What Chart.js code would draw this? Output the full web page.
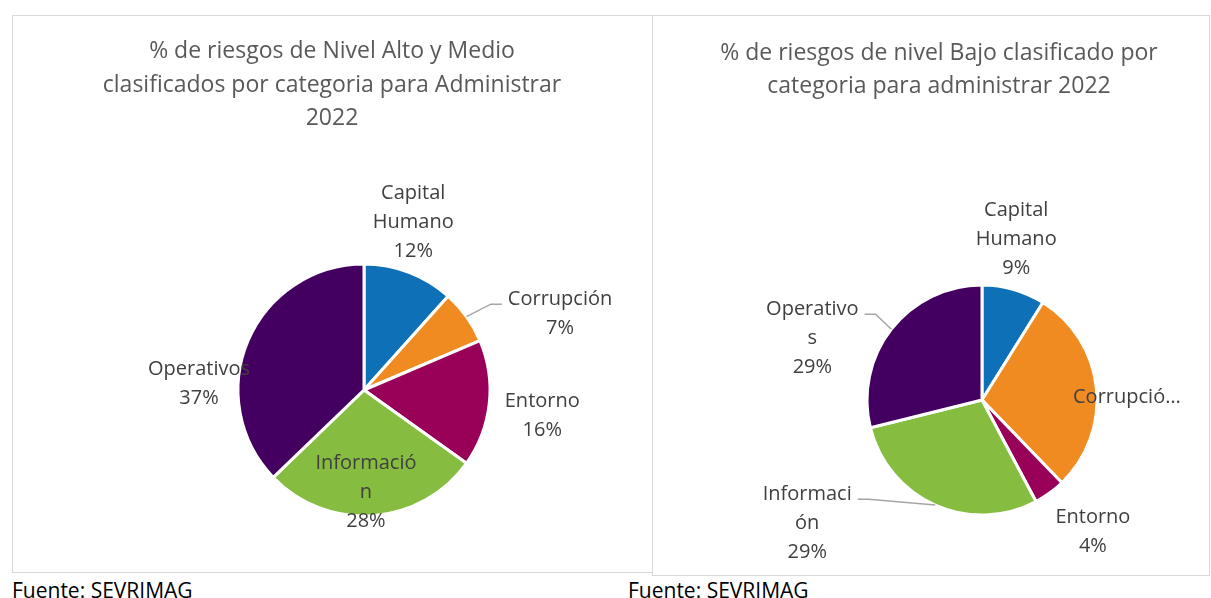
<!DOCTYPE html>
<html>
<head>
<meta charset="utf-8">
<script src="https://cdn.jsdelivr.net/npm/chart.js@4.4.0/dist/chart.umd.min.js"></script>
<style>
body{margin:0;background:#fff;width:1211px;height:598px;position:relative;overflow:hidden;font-family:"Open Sans",sans-serif;}
.box{position:absolute;border:1px solid #d9d9d9;box-sizing:border-box;}
.box canvas{position:absolute;left:0;top:0;}
.title{position:absolute;text-align:center;color:#595959;font-size:23px;line-height:33.5px;white-space:nowrap;}
.src{position:absolute;font-size:21px;color:#000;top:577px;line-height:26px;}
</style>
</head>
<body>
<div class="box" style="left:12px;top:15px;width:641px;height:558px"><canvas id="pieA" width="639" height="556"></canvas></div>
<div class="box" style="left:652px;top:15px;width:558px;height:561px"><canvas id="pieB" width="556" height="559"></canvas></div>
<div class="title" style="left:12px;width:640px;top:33px">% de riesgos de Nivel Alto y Medio<br>clasificados por categoria para Administrar<br>2022</div>
<div class="title" style="left:639px;width:600px;top:35px;line-height:32.5px">% de riesgos de nivel Bajo clasificado por<br>categoria para administrar 2022</div>
<div class="src" style="left:12px">Fuente: SEVRIMAG</div>
<div class="src" style="left:628px">Fuente: SEVRIMAG</div>
<script>
// categories and counts
var categories = ['Capital Humano', 'Corrupción', 'Entorno', 'Información', 'Operativos'];
var altoMedio = [5, 3, 7, 12, 16];
var bajo = [4, 13, 2, 13, 13];

// label text as wrapped in the picture
var labelsA = [['Capital', 'Humano'], ['Corrupción'], ['Entorno'], ['Informació', 'n'], ['Operativos']];
var labelsB = [['Capital', 'Humano'], ['Corrupció…'], ['Entorno'], ['Informaci', 'ón'], ['Operativo', 's']];
var pctA = [true, true, true, true, true];
var pctB = [true, false, true, true, true];

var colors = ['#0E71B8', '#F08B22', '#990057', '#86BD41', '#440060'];

// label placement: [angle shift from slice middle (deg), distance in radii]
var posA = [[-4.6, 1.39], [14.3, 1.67], [2.1, 1.43], [3.1, 0.81], [-20.9, 1.31]];
var posB = [[-4, 1.43], [4.8, 1.26], [-4, 1.50], [30.8, 1.86], [-18, 1.57]];
var leaderA = [false, true, false, false, false];
var leaderB = [false, false, false, true, true];

var sliceLabels = {
  id: 'sliceLabels',
  afterDatasetsDraw: function(chart, args, opts) {
    var ctx = chart.ctx;
    var meta = chart.getDatasetMeta(0);
    var data = chart.data.datasets[0].data;
    var total = data.reduce(function(a, b) { return a + b; }, 0);
    ctx.save();
    ctx.font = '20px "Open Sans"';
    ctx.fillStyle = '#404040';
    ctx.textAlign = 'center';
    ctx.textBaseline = 'middle';
    meta.data.forEach(function(arc, i) {
      var p = arc.getProps(['x', 'y', 'startAngle', 'endAngle', 'outerRadius'], true);
      var mid = (p.startAngle + p.endAngle) / 2;
      var a = mid + opts.pos[i][0] * Math.PI / 180;
      var cx = p.x + Math.cos(a) * p.outerRadius * opts.pos[i][1];
      var cy = p.y + Math.sin(a) * p.outerRadius * opts.pos[i][1];
      var lines = opts.text[i].slice();
      if (opts.pct[i]) lines.push(Math.round(data[i] / total * 100) + '%');
      var lh = 29;
      var y0 = cy - (lines.length - 1) * lh / 2;
      lines.forEach(function(t, k) { ctx.fillText(t, cx, y0 + k * lh); });
      if (opts.leader[i]) {
        var w = ctx.measureText(lines[0]).width;
        var side = cx < p.x ? 1 : -1;
        var sx = cx + side * (w / 2 + 6);
        var sy = y0 + 5;
        var ex = p.x + Math.cos(mid) * p.outerRadius;
        var ey = p.y + Math.sin(mid) * p.outerRadius;
        ctx.beginPath();
        ctx.moveTo(sx, sy);
        ctx.lineTo(sx + side * 11, sy);
        ctx.lineTo(ex, ey);
        ctx.strokeStyle = '#a6a6a6';
        ctx.lineWidth = 1.5;
        ctx.stroke();
      }
    });
    ctx.restore();
  }
};

function padFor(cx, cy, half, w, h) {
  return { left: cx - half, right: w - cx - half, top: cy - half, bottom: h - cy - half };
}

function makePie(id, values, text, pct, pos, leader, pad, radius) {
  return new Chart(document.getElementById(id), {
    type: 'pie',
    data: {
      labels: categories,
      datasets: [{
        data: values,
        backgroundColor: colors,
        borderColor: '#ffffff',
        borderWidth: 3,
        hoverOffset: 0,
        radius: radius
      }]
    },
    options: {
      responsive: false,
      animation: false,
      layout: { padding: pad },
      plugins: {
        legend: { display: false },
        tooltip: { enabled: false },
        sliceLabels: { text: text, pct: pct, pos: pos, leader: leader }
      }
    },
    plugins: [sliceLabels]
  });
}

makePie('pieA', altoMedio, labelsA, pctA, posA, leaderA, padFor(351, 374, 127, 639, 556), 126);
makePie('pieB', bajo, labelsB, pctB, posB, leaderB, padFor(329, 384, 116, 556, 559), 115);
</script>
</body>
</html>
